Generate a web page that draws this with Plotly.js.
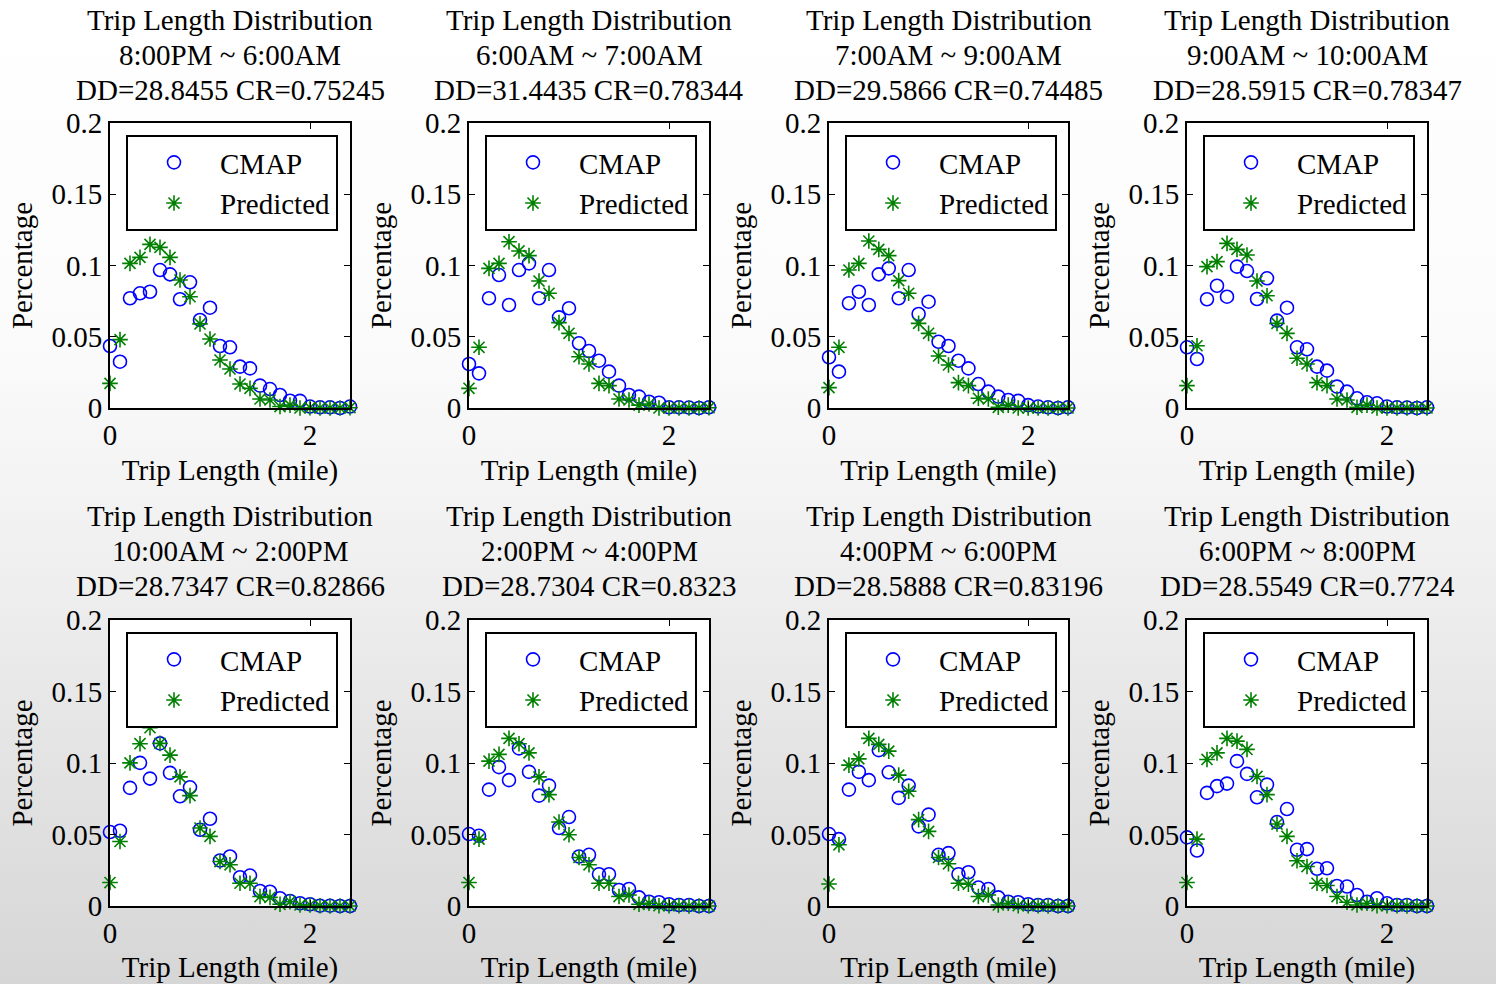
<!DOCTYPE html>
<html>
<head>
<meta charset="utf-8">
<script src="https://cdn.plot.ly/plotly-3.0.1.min.js"></script>
<style>
  html, body { margin: 0; padding: 0; }
  body {
    width: 1496px; height: 984px; overflow: hidden;
    background: linear-gradient(to bottom, #ffffff 0%, #fbfbfb 35%, #eeeeee 60%, #d6d6d6 100%);
  }
  #chart { width: 1496px; height: 984px; }
</style>
</head>
<body>
<div id="chart"></div>
<script>
// Trip length bins (mile)
const tripLength = [0, 0.1, 0.2, 0.3, 0.4, 0.5, 0.6, 0.7, 0.8, 0.9, 1.0, 1.1, 1.2, 1.3, 1.4, 1.5, 1.6, 1.7, 1.8, 1.9, 2.0, 2.1, 2.2, 2.3, 2.4];

// Period labels and statistics
const periods = ["8:00PM ~ 6:00AM", "6:00AM ~ 7:00AM", "7:00AM ~ 9:00AM", "9:00AM ~ 10:00AM",
                 "10:00AM ~ 2:00PM", "2:00PM ~ 4:00PM", "4:00PM ~ 6:00PM", "6:00PM ~ 8:00PM"];
const ddValues = ["28.8455", "31.4435", "29.5866", "28.5915", "28.7347", "28.7304", "28.5888", "28.5549"];
const crValues = ["0.75245", "0.78344", "0.74485", "0.78347", "0.82866", "0.8323", "0.83196", "0.7724"];

// CMAP observed distributions
const cmap1 = [0.0435, 0.0325, 0.077, 0.0805, 0.0816, 0.0968, 0.0938, 0.0763, 0.0882, 0.0618, 0.0704, 0.0435, 0.0426, 0.029, 0.0278, 0.0157, 0.0133, 0.0091, 0.0051, 0.005, 0.001, 0.0005, 0.0005, 0.0, 0.001];
const cmap2 = [0.0309, 0.0243, 0.077, 0.0933, 0.0723, 0.0968, 0.1015, 0.077, 0.0968, 0.0636, 0.07, 0.0454, 0.04, 0.0332, 0.0255, 0.0157, 0.0091, 0.008, 0.0044, 0.0037, 0.0005, 0.0005, 0.0003, 0.0, 0.0005];
const cmap3 = [0.0356, 0.0255, 0.0735, 0.0816, 0.0723, 0.0938, 0.098, 0.077, 0.0968, 0.066, 0.0746, 0.0465, 0.0435, 0.0332, 0.0278, 0.0168, 0.0115, 0.008, 0.0056, 0.005, 0.002, 0.001, 0.0005, 0.0, 0.0005];
const cmap4 = [0.0426, 0.0344, 0.0763, 0.0858, 0.0781, 0.0992, 0.0961, 0.0765, 0.091, 0.0613, 0.0704, 0.0426, 0.0412, 0.029, 0.0262, 0.015, 0.0115, 0.0068, 0.004, 0.0033, 0.001, 0.0005, 0.0003, 0.0, 0.0005];
const cmap5 = [0.0517, 0.0526, 0.0826, 0.1001, 0.0891, 0.1137, 0.0931, 0.0767, 0.083, 0.0533, 0.061, 0.0318, 0.0346, 0.0201, 0.0213, 0.0105, 0.01, 0.0054, 0.0035, 0.0019, 0.0012, 0.0002, 0.0002, 0.0, 0.0];
const cmap6 = [0.0503, 0.0491, 0.0814, 0.0971, 0.088, 0.1102, 0.0938, 0.0772, 0.0842, 0.0545, 0.0622, 0.0346, 0.0358, 0.0222, 0.0222, 0.0112, 0.0119, 0.006, 0.003, 0.0026, 0.0012, 0.0007, 0.0007, 0.0, 0.0];
const cmap7 = [0.0503, 0.0468, 0.0814, 0.0938, 0.088, 0.109, 0.0935, 0.0756, 0.0842, 0.0557, 0.0639, 0.0358, 0.037, 0.0222, 0.0236, 0.0129, 0.0119, 0.006, 0.003, 0.0026, 0.0012, 0.0007, 0.0007, 0.0, 0.0];
const cmap8 = [0.048, 0.0388, 0.0791, 0.0838, 0.0856, 0.1013, 0.0924, 0.076, 0.0849, 0.0587, 0.0678, 0.0393, 0.0398, 0.026, 0.0264, 0.014, 0.0136, 0.0077, 0.003, 0.0054, 0.0019, 0.0007, 0.0007, 0.0, 0.0];

// Predicted distributions
const pred1 = [0.0173, 0.048, 0.1015, 0.1057, 0.1148, 0.1127, 0.1057, 0.0898, 0.0781, 0.059, 0.0484, 0.0337, 0.0274, 0.0168, 0.0138, 0.0063, 0.0056, 0.001, 0.002, 0.0, 0.0002, 0.0, 0.0, 0.0, 0.0002];
const pred2 = [0.0138, 0.0426, 0.098, 0.1015, 0.1167, 0.1102, 0.1069, 0.0891, 0.0805, 0.0599, 0.0524, 0.036, 0.0309, 0.0173, 0.0157, 0.0063, 0.0056, 0.002, 0.0028, 0.0, 0.0, 0.0, 0.0, 0.0, 0.0002];
const pred3 = [0.0143, 0.0426, 0.0968, 0.1015, 0.1172, 0.1113, 0.1069, 0.0894, 0.0805, 0.0594, 0.0524, 0.0365, 0.0302, 0.0178, 0.0157, 0.0068, 0.0063, 0.0005, 0.002, 0.0, 0.0, 0.0, 0.0, 0.0, 0.0];
const pred4 = [0.0157, 0.0437, 0.0992, 0.1027, 0.1155, 0.1113, 0.1074, 0.0891, 0.0788, 0.0594, 0.0524, 0.0349, 0.0309, 0.0178, 0.0157, 0.0063, 0.0056, 0.0005, 0.002, 0.0, 0.0, 0.0, 0.0, 0.0, 0.0];
const pred5 = [0.0164, 0.0451, 0.1001, 0.1135, 0.1247, 0.1137, 0.1055, 0.0903, 0.0772, 0.0545, 0.0487, 0.0311, 0.0288, 0.0159, 0.0159, 0.0066, 0.006, 0.0012, 0.003, 0.0007, 0.0007, 0.0002, 0.0, 0.0, 0.0];
const pred6 = [0.0164, 0.0468, 0.1013, 0.106, 0.1172, 0.1135, 0.1071, 0.0903, 0.0779, 0.0587, 0.0498, 0.0339, 0.0288, 0.0159, 0.0159, 0.0066, 0.0077, 0.0012, 0.0019, 0.0002, 0.0002, 0.0002, 0.0, 0.0, 0.0];
const pred7 = [0.0154, 0.0428, 0.0985, 0.1029, 0.1172, 0.113, 0.1083, 0.0915, 0.0802, 0.0604, 0.0522, 0.0339, 0.0295, 0.0159, 0.0152, 0.0066, 0.0077, 0.0007, 0.0019, 0.0002, 0.0002, 0.0002, 0.0, 0.0, 0.0];
const pred8 = [0.0164, 0.0468, 0.1025, 0.1071, 0.1172, 0.1153, 0.1095, 0.0906, 0.0779, 0.0573, 0.0487, 0.0316, 0.0276, 0.0159, 0.0143, 0.0066, 0.0026, 0.0007, 0.0019, 0.0002, 0.0002, 0.0002, 0.0, 0.0, 0.0];

const cmapSeries = [cmap1, cmap2, cmap3, cmap4, cmap5, cmap6, cmap7, cmap8];
const predSeries = [pred1, pred2, pred3, pred4, pred5, pred6, pred7, pred8];

const yTickVals = [0, 0.05, 0.1, 0.15, 0.2];
const yTickText = ["0", "0.05", "0.1", "0.15", "0.2"];
const xTickVals = [0, 2];
const xTickText = ["0", "2"];

// ---------- layout geometry (pixels) ----------
const W = 1496, H = 984;
const colPx = [[110, 350], [469, 709], [829, 1068], [1187, 1427]];
const rowPx = [[123, 408], [620, 906]];
const FONT = "Liberation Serif, Times New Roman, serif";
const FS = 29;

const data = [];
const layout = {
  width: W, height: H,
  margin: {l: 0, r: 0, t: 0, b: 0},
  paper_bgcolor: "rgba(0,0,0,0)",
  plot_bgcolor: "#ffffff",
  font: {family: FONT, size: FS, color: "#000000"},
  showlegend: true,
  annotations: []
};

for (let i = 0; i < 8; i++) {
  const r = Math.floor(i / 4), c = i % 4;
  const n = i + 1;
  const xa = n === 1 ? "x" : "x" + n;
  const ya = n === 1 ? "y" : "y" + n;
  const leg = n === 1 ? "legend" : "legend" + n;
  const [x0, x1] = colPx[c];
  const [yt, yb] = rowPx[r];

  data.push({
    type: "scatter", mode: "markers",
    x: tripLength, y: cmapSeries[i], xaxis: xa, yaxis: ya,
    name: "CMAP", legend: leg, legendgroup: "c" + n,
    cliponaxis: false,
    marker: {symbol: "circle-open", size: 13, color: "#0000ff", line: {color: "#0000ff", width: 1.6}}
  });
  data.push({
    type: "scatter", mode: "markers",
    x: tripLength, y: predSeries[i], xaxis: xa, yaxis: ya,
    name: "Predicted", legend: leg, legendgroup: "p" + n,
    cliponaxis: false,
    marker: {symbol: "asterisk-open", size: 13, color: "#008000", line: {color: "#008000", width: 1.6}}
  });

  const axCommon = {
    showline: true, linecolor: "#000000", linewidth: 2, mirror: "ticks",
    ticks: "inside", ticklen: 6, tickwidth: 1, tickcolor: "#000000",
    showgrid: false, zeroline: false, fixedrange: true,
    tickfont: {family: FONT, size: FS, color: "#000000"}
  };

  layout[n === 1 ? "xaxis" : "xaxis" + n] = Object.assign({}, axCommon, {
    domain: [x0 / W, x1 / W], anchor: ya,
    range: [0, 2.4], tickvals: xTickVals, ticktext: xTickText,
    title: {text: "Trip Length (mile)", font: {family: FONT, size: FS}, standoff: 10}
  });
  layout[n === 1 ? "yaxis" : "yaxis" + n] = Object.assign({}, axCommon, {
    domain: [1 - yb / H, 1 - yt / H], anchor: xa,
    range: [0, 0.2], tickvals: yTickVals, ticktext: yTickText,
    title: {text: "Percentage", font: {family: FONT, size: FS}, standoff: 10}
  });

  layout[leg] = {
    x: (x0 + 16) / W, y: 1 - (yt + 12) / H, xanchor: "left", yanchor: "top",
    xref: "paper", yref: "paper",
    bgcolor: "#ffffff", bordercolor: "#000000", borderwidth: 2,
    font: {family: FONT, size: FS, color: "#000000"},
    itemwidth: 82, tracegroupgap: 0, itemclick: false, itemdoubleclick: false
  };

  const cx = (x0 + x1) / 2 / W;
  const lines = ["Trip Length Distribution", periods[i], "DD=" + ddValues[i] + " CR=" + crValues[i]];
  const baseY = r === 0 ? 20 : 516;
  lines.forEach((t, k) => {
    layout.annotations.push({
      text: t, xref: "paper", yref: "paper",
      x: cx, y: 1 - (baseY + 35 * k) / H,
      xanchor: "center", yanchor: "middle", showarrow: false,
      font: {family: FONT, size: FS, color: "#000000"}
    });
  });
}

Plotly.newPlot("chart", data, layout, {displayModeBar: false, staticPlot: false});
</script>
</body>
</html>
